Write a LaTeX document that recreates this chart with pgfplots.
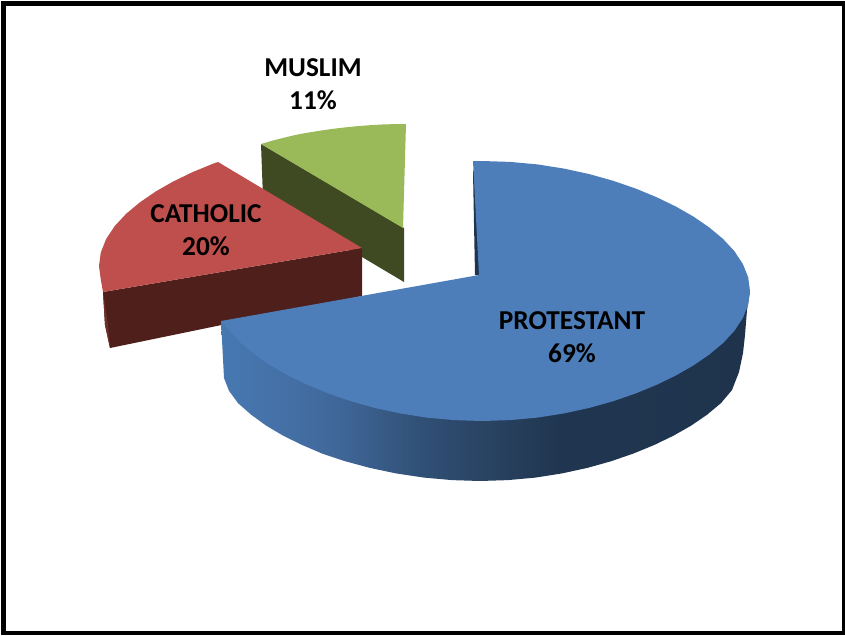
\documentclass[border=0pt]{standalone}
\usepackage{pgfplots}
\pgfplotsset{compat=1.18}
\usepackage{fontspec}
\setmainfont{Carlito}

\definecolor{protTop}{HTML}{4E7EBA}
\definecolor{protDark}{HTML}{1F344D}
\definecolor{cathTop}{HTML}{BF4F4C}
\definecolor{cathWall}{HTML}{4E1F1B}
\definecolor{cathEdge}{HTML}{6E2E2A}
\definecolor{muslTop}{HTML}{9ABA59}
\definecolor{muslWall}{HTML}{3F4A22}

\definecolor{w1}{HTML}{4778B1}
\definecolor{w2}{HTML}{436EA3}
\definecolor{w3}{HTML}{3E6494}
\definecolor{w4}{HTML}{305076}
\definecolor{w5}{HTML}{2A4464}
\definecolor{w6}{HTML}{203650}
\definecolor{w7}{HTML}{1F334C}

% Rim of the large slice, darkening from left to right
\pgfdeclarehorizontalshading{protrim}{100bp}{
  color(0bp)=(w1); color(25bp)=(w1); color(32.5bp)=(w2); color(37.2bp)=(w3);
  color(43.8bp)=(w4); color(49.5bp)=(w5); color(57bp)=(w6); color(75bp)=(w7);
  color(100bp)=(w7)}

\tikzset{pielabel/.style={font=\fontsize{27.3}{27.3}\selectfont\bfseries}}

\begin{document}
\begin{tikzpicture}
\begin{axis}[
  scale only axis, width=845pt, height=635pt,
  xmin=0, xmax=845, ymin=0, ymax=635, y dir=reverse,
  hide axis, clip=false, no marks,
  every axis plot/.append style={draw=none},
]
% Frame
\addplot[fill=white] coordinates {(0,0) (845,0) (845,635) (0,635)} -- cycle;
\addplot[fill=black] coordinates {(1,1) (845,1) (845,635) (1,635)} -- cycle;
\addplot[fill=white] coordinates {(6,5.5) (842,5.5) (842,631) (6,631)} -- cycle;

% MUSLIM slice
\addplot[fill=muslWall] coordinates {(261,144) (404,228) (404,282) (263,198)} -- cycle;
\addplot[fill=muslTop] coordinates {
  (403,228) (261,144) (274,140.2) (286,137.2) (298,134.4) (310,132.3) (322,130.4)
  (334,128.7) (346,127.3) (358,126.1) (370,125.2) (382,124.5) (394,124.1) (406,124)} -- cycle;

% CATHOLIC slice
\addplot[fill=cathWall] coordinates {(103,292) (362,248) (362,296) (110,348) (105,325)} -- cycle;
\addplot[fill=cathEdge] coordinates {(103,292) (105,325) (110,348) (108,325)} -- cycle;
\addplot[fill=cathTop] coordinates {
  (362,248) (218,162) (213.5,163.5) (192.6,172.1) (173.4,181.4) (155.7,191.5)
  (139.8,202.4) (126,213.9) (114.6,226.2) (106.1,239.1) (100.8,252.4) (99,266)
  (100.8,279.6) (103,292)} -- cycle;

% PROTESTANT slice: rim, inner sliver, top face
\addplot[shade, shading=protrim] coordinates {
  (221,321) (224,378) (229,390.8) (238,403.1) (251,414.6) (266,425.5) (283,435.6)
  (302,444.9) (322,453.5) (345,461.2) (370,467.9) (396,473.4) (424,477.6) (452,480.1)
  (480,481) (508,480.1) (535.4,477.6) (562,473.4) (587.3,467.9) (611.2,461.2)
  (633.5,453.5) (654.4,444.9) (673.6,435.6) (691.3,425.5) (707.2,414.6) (721,403.1)
  (732,390) (739,372) (743,353) (745,335) (747,310) (750,291)
  (600,300) (300,335)} -- cycle;
\addplot[fill=protDark] coordinates {(473,172) (475,275) (480,275) (474,170)} -- cycle;
\addplot[fill=protTop] coordinates {
  (479,275) (473,161) (482,161) (510,161.9) (537.4,164.4) (564,168.6) (589.3,174.1)
  (613.2,180.8) (635.5,188.5) (656.4,197.1) (675.6,206.4) (693.3,216.5) (709.2,227.4)
  (723,238.9) (734.4,251.2) (742.9,264.1) (748.2,277.4) (750,291) (748.2,304.6)
  (742.9,317.9) (734.4,330.8) (723,343.1) (709.2,354.6) (693.3,365.5) (675.6,375.6)
  (656.4,384.9) (635.5,393.5) (613.2,401.2) (589.3,407.9) (564,413.4) (537.4,417.6)
  (510,420.1) (482,421) (454,420.1) (426.6,417.6) (400,413.4) (374.7,407.9) (350.8,401.2)
  (328.5,393.5) (307.6,384.9) (288.4,375.6) (270.7,365.5) (254.8,354.6) (241,343.1)
  (229.6,330.8) (221,321)} -- cycle;

% Labels
\node[pielabel] at (axis cs:572,321) {PROTESTANT};
\node[pielabel] at (axis cs:572,353) {69\%};
\node[pielabel] at (axis cs:206,214) {CATHOLIC};
\node[pielabel] at (axis cs:206,246) {20\%};
\node[pielabel] at (axis cs:313,68) {MUSLIM};
\node[pielabel] at (axis cs:313,100) {11\%};
\end{axis}
\end{tikzpicture}
\end{document}
